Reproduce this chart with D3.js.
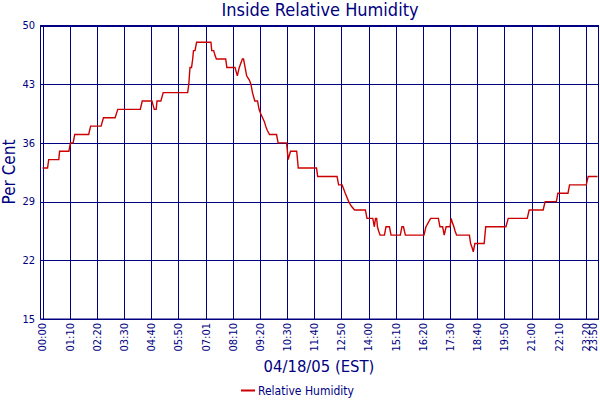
<!DOCTYPE html>
<html>
<head>
<meta charset="utf-8">
<script src="https://cdn.jsdelivr.net/npm/d3@7"></script>
<style>
  body { margin: 0; background: #fff; }
  text { font-family: "DejaVu Sans Condensed", "DejaVu Sans", sans-serif; }
</style>
</head>
<body>
<div id="container"></div>
<script>
// readings: minutes since midnight and % humidity
const minutes = [0, 13, 16, 42, 44, 68, 72, 79, 83, 119, 124, 151, 157, 187, 194, 252, 257, 282, 288, 293,
  295, 305, 311, 374, 377, 380, 384, 387, 389, 393, 397, 434, 436, 441, 444, 448, 472, 475, 496, 499,
  502, 507, 511, 515, 518, 522, 526, 533, 537, 541, 547, 554, 558, 562, 567, 572, 575, 579, 585, 603,
  607, 629, 633, 639, 655, 659, 706, 709, 759, 763, 772, 776, 780, 789, 795, 804, 832, 836, 851, 855,
  858, 861, 863, 866, 870, 881, 885, 894, 898, 922, 926, 930, 935, 983, 988, 994, 1000, 1020, 1024, 1031,
  1035, 1040, 1050, 1053, 1056, 1060, 1063, 1067, 1100, 1103, 1107, 1110, 1114, 1138, 1142, 1194, 1200, 1249, 1254, 1290,
  1295, 1324, 1328, 1354, 1358, 1401, 1406, 1430];
const humidity = [33, 33, 34, 34, 35, 35, 36, 36, 37, 37, 38, 38, 39, 39, 40, 40, 41, 41, 40, 40,
  41, 41, 42, 42, 43, 45, 45, 46, 47, 47, 48, 48, 47, 47, 46.5, 46, 46, 45, 45, 44.5,
  44, 45, 45.5, 46, 46, 45, 44, 43.5, 43, 42, 41, 41, 40, 39.5, 39, 38.5, 38, 37.5, 37, 37,
  36, 36, 34, 35, 35, 33, 33, 32, 32, 31, 31, 30.5, 30, 29, 28.5, 28, 28, 27, 27, 26,
  27, 27, 26, 25.5, 25, 25, 26, 26, 25, 25, 26, 26, 25, 25, 26, 26.5, 27, 27, 26, 26,
  25, 26, 26, 27, 26.5, 26, 25.5, 25, 25, 24, 23.5, 23, 24, 24, 26, 26, 27, 27, 28, 28,
  29, 29, 30, 30, 31, 31, 32, 32];

const xTickMinutes = [0, 70, 140, 210, 280, 350, 421, 490, 560, 630, 700, 770, 840, 910, 980, 1050, 1120, 1190, 1260, 1330, 1400, 1430];
const xTickLabels = ["00:00", "01:10", "02:20", "03:30", "04:40", "05:50", "07:01", "08:10", "09:20", "10:30", "11:40",
  "12:50", "14:00", "15:10", "16:20", "17:30", "18:40", "19:50", "21:00", "22:10", "23:20", "23:50"];
const yTicks = [15, 22, 29, 36, 43, 50];

const width = 600;
const height = 400;
const navy = "#000080";

const svg = d3.select("#container").append("svg")
  .attr("width", width)
  .attr("height", height);

const x = d3.scaleLinear().domain([0, 1430]).range([42.5, 597.5]);
const y = d3.scaleLinear().domain([15, 50]).range([319, 25.5]);

// plot frame
svg.append("rect")
  .attr("x", 40.5).attr("y", 25.5)
  .attr("width", 558).attr("height", 293.5)
  .attr("fill", "none").attr("stroke", navy);

// grid
svg.append("g").selectAll("line").data(yTicks).join("line")
  .attr("x1", 40.5).attr("x2", 598.5)
  .attr("y1", d => Math.round(y(d)) + 0.5).attr("y2", d => Math.round(y(d)) + 0.5)
  .attr("stroke", navy);
svg.append("g").selectAll("line").data(xTickMinutes).join("line")
  .attr("x1", d => Math.round(x(d)) + 0.5).attr("x2", d => Math.round(x(d)) + 0.5)
  .attr("y1", 25.5).attr("y2", 319.5)
  .attr("stroke", navy);

// y labels
svg.append("g").selectAll("text").data(yTicks).join("text")
  .attr("x", 35).attr("y", d => y(d))
  .attr("dy", "0.35em")
  .attr("text-anchor", "end")
  .attr("font-size", 11)
  .attr("fill", navy)
  .text(d => d);

// x labels, rotated (last one kept inside the window)
svg.append("g").selectAll("text").data(xTickMinutes).join("text")
  .attr("transform", d => `translate(${Math.min(x(d), 593)},323) rotate(-90)`)
  .attr("dy", "0.35em")
  .attr("text-anchor", "end")
  .attr("font-size", 11)
  .attr("fill", navy)
  .text((d, i) => xTickLabels[i]);

// humidity line
const line = d3.line()
  .x(i => x(minutes[i]))
  .y(i => y(humidity[i]));
svg.append("path")
  .attr("d", line(d3.range(minutes.length)))
  .attr("fill", "none")
  .attr("stroke", "#cc0000")
  .attr("stroke-width", 1.4);

// titles
svg.append("text")
  .attr("x", 320).attr("y", 16)
  .attr("text-anchor", "middle")
  .attr("font-size", 18)
  .attr("fill", navy)
  .text("Inside Relative Humidity");
svg.append("text")
  .attr("x", 319).attr("y", 372)
  .attr("text-anchor", "middle")
  .attr("font-size", 16.5)
  .attr("fill", navy)
  .text("04/18/05 (EST)");
svg.append("text")
  .attr("transform", "translate(15,172) rotate(-90)")
  .attr("text-anchor", "middle")
  .attr("font-size", 17)
  .attr("fill", navy)
  .text("Per Cent");

// legend
svg.append("line")
  .attr("x1", 241).attr("x2", 255)
  .attr("y1", 390.5).attr("y2", 390.5)
  .attr("stroke", "#cc0000").attr("stroke-width", 2);
svg.append("text")
  .attr("x", 258).attr("y", 395)
  .attr("font-size", 12)
  .attr("fill", navy)
  .text("Relative Humidity");
</script>
</body>
</html>
